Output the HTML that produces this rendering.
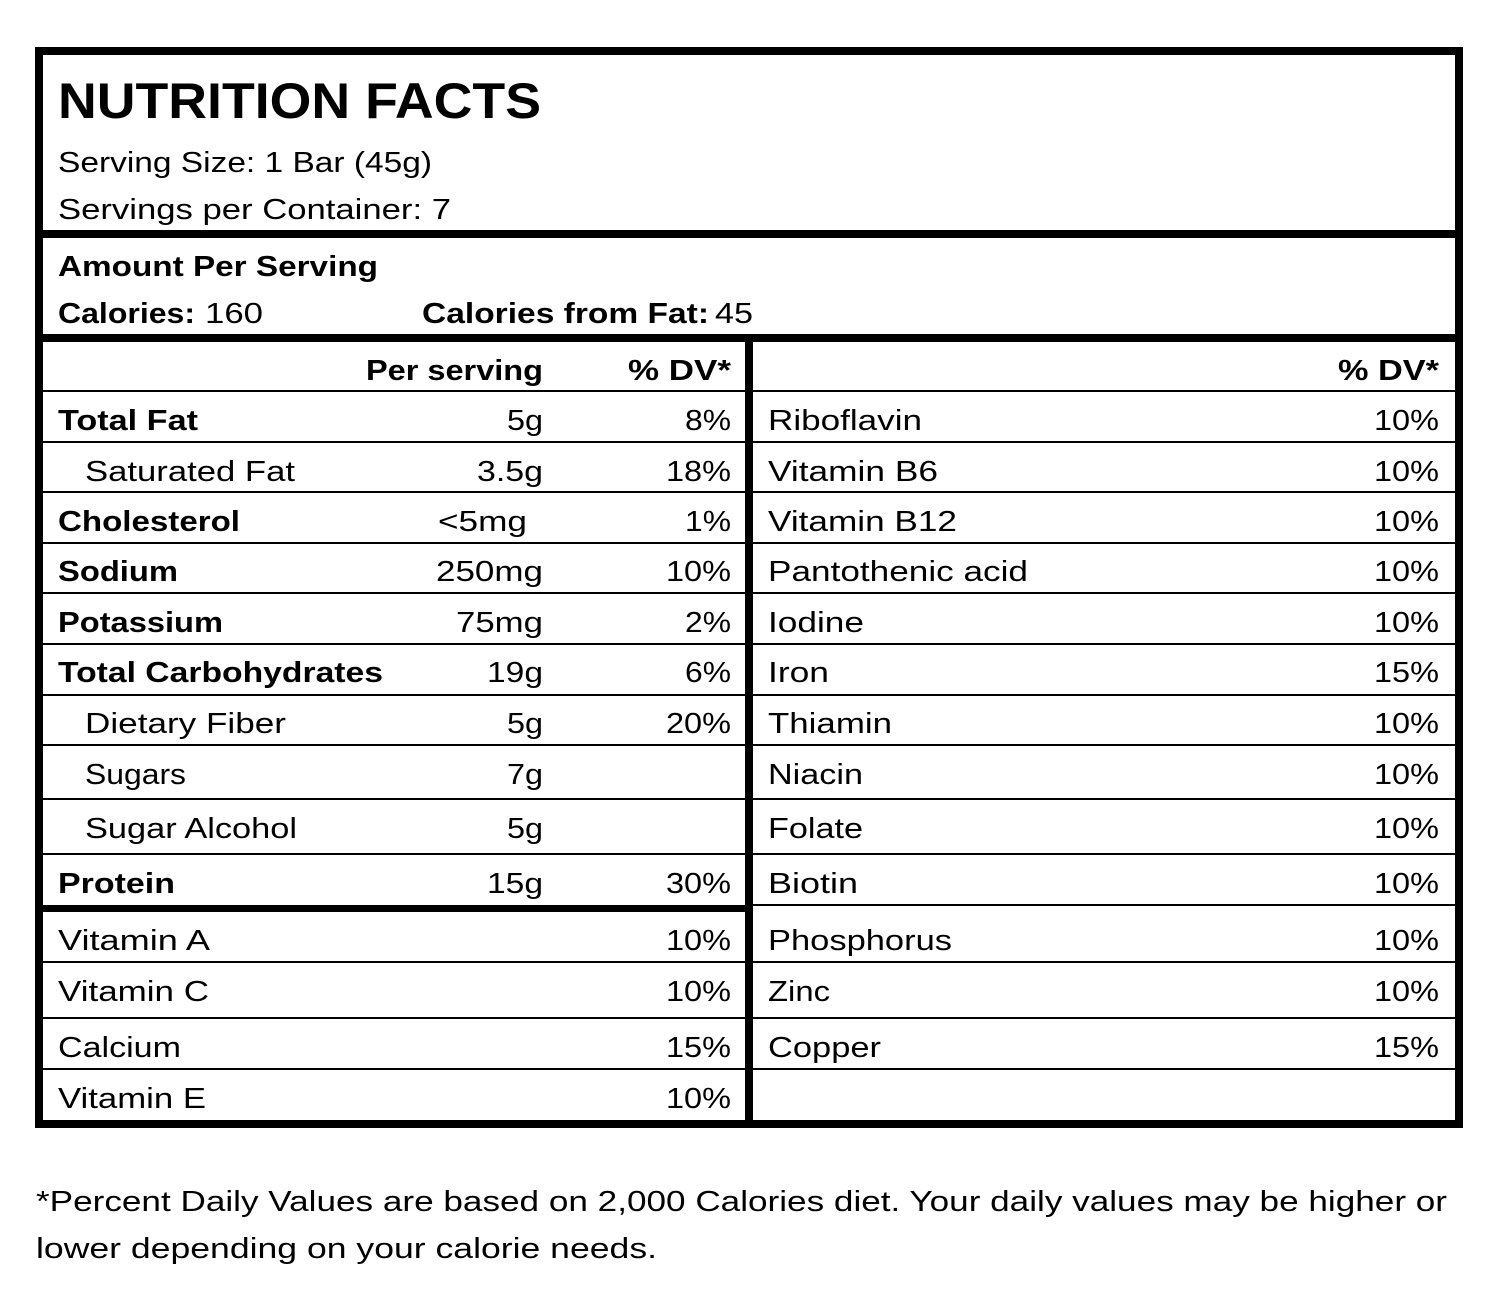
<!DOCTYPE html>
<html><head><meta charset="utf-8"><style>
html,body{margin:0;padding:0;background:#fff}
svg{display:block}
text{font-family:"Liberation Sans",sans-serif;font-size:29px;fill:#000}
.b{font-weight:bold}
.e{text-anchor:end}
</style></head><body>
<svg width="1500" height="1290" viewBox="0 0 1500 1290" xmlns="http://www.w3.org/2000/svg">
<rect width="1500" height="1290" fill="#fff"/>
<g fill="#000">
<rect x="35" y="47" width="1428" height="8"/>
<rect x="35" y="1120" width="1428" height="8"/>
<rect x="35" y="47" width="8" height="1081"/>
<rect x="1455" y="47" width="8" height="1081"/>
<rect x="35" y="230" width="1428" height="8"/>
<rect x="35" y="334" width="1428" height="8"/>
<rect x="745" y="334" width="8" height="790"/>
<rect x="35" y="905" width="714" height="7"/>
<rect x="749" y="904" width="710" height="2"/>
<rect x="43" y="390" width="1414" height="2"/>
<rect x="43" y="441" width="1414" height="2"/>
<rect x="43" y="491" width="1414" height="2"/>
<rect x="43" y="542" width="1414" height="2"/>
<rect x="43" y="592" width="1414" height="2"/>
<rect x="43" y="643" width="1414" height="2"/>
<rect x="43" y="694" width="1414" height="2"/>
<rect x="43" y="744" width="1414" height="2"/>
<rect x="43" y="798" width="1414" height="2"/>
<rect x="43" y="853" width="1414" height="2"/>
<rect x="43" y="961" width="1414" height="2"/>
<rect x="43" y="1017" width="1414" height="2"/>
<rect x="43" y="1068" width="1414" height="2"/>
</g>
<text x="58" y="118" class="b" style="font-size:50px" textLength="483" lengthAdjust="spacingAndGlyphs">NUTRITION FACTS</text>
<text x="58" y="172" textLength="374" lengthAdjust="spacingAndGlyphs">Serving Size: 1 Bar (45g)</text>
<text x="58" y="219" textLength="393" lengthAdjust="spacingAndGlyphs">Servings per Container: 7</text>
<text x="58" y="276" class="b" textLength="320" lengthAdjust="spacingAndGlyphs">Amount Per Serving</text>
<text x="58" y="323" class="b" textLength="137" lengthAdjust="spacingAndGlyphs">Calories:</text>
<text x="205" y="323" textLength="58" lengthAdjust="spacingAndGlyphs">160</text>
<text x="422" y="323" class="b" textLength="287" lengthAdjust="spacingAndGlyphs">Calories from Fat:</text>
<text x="715" y="323" textLength="38" lengthAdjust="spacingAndGlyphs">45</text>
<text x="366" y="380" class="b" textLength="177" lengthAdjust="spacingAndGlyphs">Per serving</text>
<text x="628" y="380" class="b" textLength="103" lengthAdjust="spacingAndGlyphs">% DV*</text>
<text x="1338" y="380" class="b" textLength="101" lengthAdjust="spacingAndGlyphs">% DV*</text>

<text x="58" y="430" class="b" textLength="140" lengthAdjust="spacingAndGlyphs">Total Fat</text>
<text x="85" y="481" textLength="210" lengthAdjust="spacingAndGlyphs">Saturated Fat</text>
<text x="58" y="531" class="b" textLength="182" lengthAdjust="spacingAndGlyphs">Cholesterol</text>
<text x="58" y="581" class="b" textLength="120" lengthAdjust="spacingAndGlyphs">Sodium</text>
<text x="58" y="632" class="b" textLength="165" lengthAdjust="spacingAndGlyphs">Potassium</text>
<text x="58" y="682" class="b" textLength="325" lengthAdjust="spacingAndGlyphs">Total Carbohydrates</text>
<text x="85" y="733" textLength="201" lengthAdjust="spacingAndGlyphs">Dietary Fiber</text>
<text x="85" y="784" textLength="101" lengthAdjust="spacingAndGlyphs">Sugars</text>
<text x="85" y="838" textLength="212" lengthAdjust="spacingAndGlyphs">Sugar Alcohol</text>
<text x="58" y="893" class="b" textLength="117" lengthAdjust="spacingAndGlyphs">Protein</text>
<text x="58" y="950" textLength="152" lengthAdjust="spacingAndGlyphs">Vitamin A</text>
<text x="58" y="1001" textLength="151" lengthAdjust="spacingAndGlyphs">Vitamin C</text>
<text x="58" y="1057" textLength="123" lengthAdjust="spacingAndGlyphs">Calcium</text>
<text x="58" y="1108" textLength="148" lengthAdjust="spacingAndGlyphs">Vitamin E</text>

<g>
<text x="543" y="430" class="e" textLength="36" lengthAdjust="spacingAndGlyphs">5g</text>
<text x="543" y="481" class="e" textLength="66" lengthAdjust="spacingAndGlyphs">3.5g</text>
<text x="527" y="531" class="e" textLength="89" lengthAdjust="spacingAndGlyphs">&lt;5mg</text>
<text x="543" y="581" class="e" textLength="107" lengthAdjust="spacingAndGlyphs">250mg</text>
<text x="543" y="632" class="e" textLength="87" lengthAdjust="spacingAndGlyphs">75mg</text>
<text x="543" y="682" class="e" textLength="56" lengthAdjust="spacingAndGlyphs">19g</text>
<text x="543" y="733" class="e" textLength="36" lengthAdjust="spacingAndGlyphs">5g</text>
<text x="543" y="784" class="e" textLength="36" lengthAdjust="spacingAndGlyphs">7g</text>
<text x="543" y="838" class="e" textLength="36" lengthAdjust="spacingAndGlyphs">5g</text>
<text x="543" y="893" class="e" textLength="56" lengthAdjust="spacingAndGlyphs">15g</text>

<text x="731" y="430" class="e" textLength="46" lengthAdjust="spacingAndGlyphs">8%</text>
<text x="731" y="481" class="e" textLength="65" lengthAdjust="spacingAndGlyphs">18%</text>
<text x="731" y="531" class="e" textLength="46" lengthAdjust="spacingAndGlyphs">1%</text>
<text x="731" y="581" class="e" textLength="65" lengthAdjust="spacingAndGlyphs">10%</text>
<text x="731" y="632" class="e" textLength="46" lengthAdjust="spacingAndGlyphs">2%</text>
<text x="731" y="682" class="e" textLength="46" lengthAdjust="spacingAndGlyphs">6%</text>
<text x="731" y="733" class="e" textLength="65" lengthAdjust="spacingAndGlyphs">20%</text>
<text x="731" y="893" class="e" textLength="65" lengthAdjust="spacingAndGlyphs">30%</text>
<text x="731" y="950" class="e" textLength="65" lengthAdjust="spacingAndGlyphs">10%</text>
<text x="731" y="1001" class="e" textLength="65" lengthAdjust="spacingAndGlyphs">10%</text>
<text x="731" y="1057" class="e" textLength="65" lengthAdjust="spacingAndGlyphs">15%</text>
<text x="731" y="1108" class="e" textLength="65" lengthAdjust="spacingAndGlyphs">10%</text>

<text x="1439" y="430" class="e" textLength="65" lengthAdjust="spacingAndGlyphs">10%</text>
<text x="1439" y="481" class="e" textLength="65" lengthAdjust="spacingAndGlyphs">10%</text>
<text x="1439" y="531" class="e" textLength="65" lengthAdjust="spacingAndGlyphs">10%</text>
<text x="1439" y="581" class="e" textLength="65" lengthAdjust="spacingAndGlyphs">10%</text>
<text x="1439" y="632" class="e" textLength="65" lengthAdjust="spacingAndGlyphs">10%</text>
<text x="1439" y="682" class="e" textLength="65" lengthAdjust="spacingAndGlyphs">15%</text>
<text x="1439" y="733" class="e" textLength="65" lengthAdjust="spacingAndGlyphs">10%</text>
<text x="1439" y="784" class="e" textLength="65" lengthAdjust="spacingAndGlyphs">10%</text>
<text x="1439" y="838" class="e" textLength="65" lengthAdjust="spacingAndGlyphs">10%</text>
<text x="1439" y="893" class="e" textLength="65" lengthAdjust="spacingAndGlyphs">10%</text>
<text x="1439" y="950" class="e" textLength="65" lengthAdjust="spacingAndGlyphs">10%</text>
<text x="1439" y="1001" class="e" textLength="65" lengthAdjust="spacingAndGlyphs">10%</text>
<text x="1439" y="1057" class="e" textLength="65" lengthAdjust="spacingAndGlyphs">15%</text>
</g>

<text x="768" y="430" textLength="154" lengthAdjust="spacingAndGlyphs">Riboflavin</text>
<text x="768" y="481" textLength="170" lengthAdjust="spacingAndGlyphs">Vitamin B6</text>
<text x="768" y="531" textLength="189" lengthAdjust="spacingAndGlyphs">Vitamin B12</text>
<text x="768" y="581" textLength="260" lengthAdjust="spacingAndGlyphs">Pantothenic acid</text>
<text x="768" y="632" textLength="96" lengthAdjust="spacingAndGlyphs">Iodine</text>
<text x="768" y="682" textLength="61" lengthAdjust="spacingAndGlyphs">Iron</text>
<text x="768" y="733" textLength="124" lengthAdjust="spacingAndGlyphs">Thiamin</text>
<text x="768" y="784" textLength="95" lengthAdjust="spacingAndGlyphs">Niacin</text>
<text x="768" y="838" textLength="95" lengthAdjust="spacingAndGlyphs">Folate</text>
<text x="768" y="893" textLength="90" lengthAdjust="spacingAndGlyphs">Biotin</text>
<text x="768" y="950" textLength="184" lengthAdjust="spacingAndGlyphs">Phosphorus</text>
<text x="768" y="1001" textLength="62" lengthAdjust="spacingAndGlyphs">Zinc</text>
<text x="768" y="1057" textLength="113" lengthAdjust="spacingAndGlyphs">Copper</text>

<text x="36" y="1211" textLength="1411" lengthAdjust="spacingAndGlyphs">*Percent Daily Values are based on 2,000 Calories diet. Your daily values may be higher or</text>
<text x="36" y="1258" textLength="621" lengthAdjust="spacingAndGlyphs">lower depending on your calorie needs.</text>
</svg>
</body></html>
